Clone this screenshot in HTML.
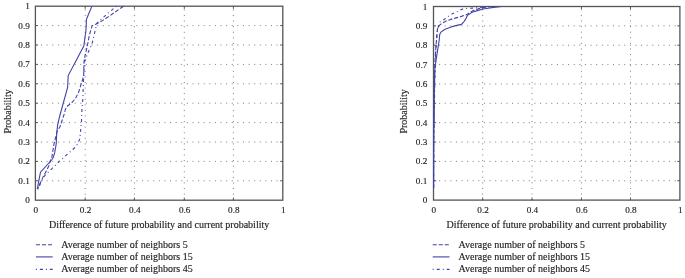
<!DOCTYPE html><html><head><meta charset="utf-8"><style>
html,body{margin:0;padding:0;background:#fff;}
svg{display:block;will-change:transform;}
text{font-family:'Liberation Serif', serif;fill:#1e1e1e;stroke:#1e1e1e;stroke-width:0.15px;}
</style></head><body>
<svg width="685" height="278" viewBox="0 0 685 278">
<line x1="85.20" y1="200.20" x2="85.20" y2="6.20" stroke="#7c7c7c" stroke-width="1.0" stroke-dasharray="1.0 4.58"/>
<line x1="134.40" y1="200.20" x2="134.40" y2="6.20" stroke="#7c7c7c" stroke-width="1.0" stroke-dasharray="1.0 4.58"/>
<line x1="184.30" y1="200.20" x2="184.30" y2="6.20" stroke="#7c7c7c" stroke-width="1.0" stroke-dasharray="1.0 4.58"/>
<line x1="233.40" y1="200.20" x2="233.40" y2="6.20" stroke="#7c7c7c" stroke-width="1.0" stroke-dasharray="1.0 4.58"/>
<line x1="35.40" y1="180.80" x2="282.80" y2="180.80" stroke="#7c7c7c" stroke-width="1.0" stroke-dasharray="1.0 4.61"/>
<line x1="35.40" y1="161.40" x2="282.80" y2="161.40" stroke="#7c7c7c" stroke-width="1.0" stroke-dasharray="1.0 4.61"/>
<line x1="35.40" y1="142.00" x2="282.80" y2="142.00" stroke="#7c7c7c" stroke-width="1.0" stroke-dasharray="1.0 4.61"/>
<line x1="35.40" y1="122.60" x2="282.80" y2="122.60" stroke="#7c7c7c" stroke-width="1.0" stroke-dasharray="1.0 4.61"/>
<line x1="35.40" y1="103.20" x2="282.80" y2="103.20" stroke="#7c7c7c" stroke-width="1.0" stroke-dasharray="1.0 4.61"/>
<line x1="35.40" y1="83.80" x2="282.80" y2="83.80" stroke="#7c7c7c" stroke-width="1.0" stroke-dasharray="1.0 4.61"/>
<line x1="35.40" y1="64.40" x2="282.80" y2="64.40" stroke="#7c7c7c" stroke-width="1.0" stroke-dasharray="1.0 4.61"/>
<line x1="35.40" y1="45.00" x2="282.80" y2="45.00" stroke="#7c7c7c" stroke-width="1.0" stroke-dasharray="1.0 4.61"/>
<line x1="35.40" y1="25.60" x2="282.80" y2="25.60" stroke="#7c7c7c" stroke-width="1.0" stroke-dasharray="1.0 4.61"/>
<line x1="85.20" y1="200.20" x2="85.20" y2="197.60" stroke="#555" stroke-width="1"/>
<line x1="85.20" y1="6.20" x2="85.20" y2="8.80" stroke="#555" stroke-width="1"/>
<line x1="134.40" y1="200.20" x2="134.40" y2="197.60" stroke="#555" stroke-width="1"/>
<line x1="134.40" y1="6.20" x2="134.40" y2="8.80" stroke="#555" stroke-width="1"/>
<line x1="184.30" y1="200.20" x2="184.30" y2="197.60" stroke="#555" stroke-width="1"/>
<line x1="184.30" y1="6.20" x2="184.30" y2="8.80" stroke="#555" stroke-width="1"/>
<line x1="233.40" y1="200.20" x2="233.40" y2="197.60" stroke="#555" stroke-width="1"/>
<line x1="233.40" y1="6.20" x2="233.40" y2="8.80" stroke="#555" stroke-width="1"/>
<line x1="35.40" y1="180.80" x2="38.00" y2="180.80" stroke="#555" stroke-width="1"/>
<line x1="282.80" y1="180.80" x2="280.20" y2="180.80" stroke="#555" stroke-width="1"/>
<line x1="35.40" y1="161.40" x2="38.00" y2="161.40" stroke="#555" stroke-width="1"/>
<line x1="282.80" y1="161.40" x2="280.20" y2="161.40" stroke="#555" stroke-width="1"/>
<line x1="35.40" y1="142.00" x2="38.00" y2="142.00" stroke="#555" stroke-width="1"/>
<line x1="282.80" y1="142.00" x2="280.20" y2="142.00" stroke="#555" stroke-width="1"/>
<line x1="35.40" y1="122.60" x2="38.00" y2="122.60" stroke="#555" stroke-width="1"/>
<line x1="282.80" y1="122.60" x2="280.20" y2="122.60" stroke="#555" stroke-width="1"/>
<line x1="35.40" y1="103.20" x2="38.00" y2="103.20" stroke="#555" stroke-width="1"/>
<line x1="282.80" y1="103.20" x2="280.20" y2="103.20" stroke="#555" stroke-width="1"/>
<line x1="35.40" y1="83.80" x2="38.00" y2="83.80" stroke="#555" stroke-width="1"/>
<line x1="282.80" y1="83.80" x2="280.20" y2="83.80" stroke="#555" stroke-width="1"/>
<line x1="35.40" y1="64.40" x2="38.00" y2="64.40" stroke="#555" stroke-width="1"/>
<line x1="282.80" y1="64.40" x2="280.20" y2="64.40" stroke="#555" stroke-width="1"/>
<line x1="35.40" y1="45.00" x2="38.00" y2="45.00" stroke="#555" stroke-width="1"/>
<line x1="282.80" y1="45.00" x2="280.20" y2="45.00" stroke="#555" stroke-width="1"/>
<line x1="35.40" y1="25.60" x2="38.00" y2="25.60" stroke="#555" stroke-width="1"/>
<line x1="282.80" y1="25.60" x2="280.20" y2="25.60" stroke="#555" stroke-width="1"/>
<rect x="35.40" y="6.20" width="247.40" height="194.00" fill="none" stroke="#555" stroke-width="1.3"/>
<polyline points="123.60,6.20 103.00,20.40 96.30,23.90 92.10,25.80 89.40,35.00 87.30,46.00 85.00,56.00 84.00,62.00 83.70,76.00 78.50,92.50 75.50,98.50 71.90,102.60 66.30,107.00 65.00,110.80 63.90,115.00 60.10,126.40 56.90,132.00 56.40,134.50 54.00,144.00 51.70,158.00 50.20,161.00 48.90,165.70 46.30,170.90 43.80,175.40 41.80,179.90 39.20,185.10 37.60,189.00" fill="none" stroke="#4242aa" stroke-width="1.1" stroke-dasharray="4.1 1.9"/>
<polyline points="116.50,6.10 104.20,16.60 97.00,23.00 95.40,29.40 94.20,35.00 91.80,44.70 89.30,49.60 85.30,59.30 84.30,63.00 83.50,80.00 83.00,95.00 82.60,102.60 82.00,107.60 81.50,121.30 80.90,127.60 80.20,135.20 79.60,139.50 76.30,146.30 59.60,161.20 52.20,168.30 48.90,171.50 44.40,176.00 41.00,182.50 37.80,189.50" fill="none" stroke="#4242aa" stroke-width="1.1" stroke-dasharray="1 3 3 3"/>
<polyline points="92.00,6.10 88.20,15.00 86.40,19.50 86.00,30.00 85.30,35.00 83.80,46.00 68.20,75.60 67.60,87.50 59.60,116.50 57.60,125.10 56.80,132.00 56.20,144.00 54.70,152.70 53.20,157.50 51.60,160.00 40.50,172.20 39.20,178.60 37.90,185.80 37.30,189.00" fill="none" stroke="#4242aa" stroke-width="1.1"/>
<text x="29.80" y="203.20" font-size="9.2" text-anchor="end">0</text>
<text x="29.80" y="183.80" font-size="9.2" text-anchor="end">0.1</text>
<text x="29.80" y="164.40" font-size="9.2" text-anchor="end">0.2</text>
<text x="29.80" y="145.00" font-size="9.2" text-anchor="end">0.3</text>
<text x="29.80" y="125.60" font-size="9.2" text-anchor="end">0.4</text>
<text x="29.80" y="106.20" font-size="9.2" text-anchor="end">0.5</text>
<text x="29.80" y="86.80" font-size="9.2" text-anchor="end">0.6</text>
<text x="29.80" y="67.40" font-size="9.2" text-anchor="end">0.7</text>
<text x="29.80" y="48.00" font-size="9.2" text-anchor="end">0.8</text>
<text x="29.80" y="28.60" font-size="9.2" text-anchor="end">0.9</text>
<text x="29.80" y="9.20" font-size="9.2" text-anchor="end">1</text>
<text x="35.80" y="213.2" font-size="9.2" text-anchor="middle">0</text>
<text x="85.60" y="213.2" font-size="9.2" text-anchor="middle">0.2</text>
<text x="134.80" y="213.2" font-size="9.2" text-anchor="middle">0.4</text>
<text x="184.70" y="213.2" font-size="9.2" text-anchor="middle">0.6</text>
<text x="233.80" y="213.2" font-size="9.2" text-anchor="middle">0.8</text>
<text x="283.20" y="213.2" font-size="9.2" text-anchor="middle">1</text>
<text x="159.10" y="227.9" font-size="10" text-anchor="middle">Difference of future probability and current probability</text>
<text x="0" y="0" font-size="10" text-anchor="middle" transform="translate(10.60,111.40) rotate(-90)">Probability</text>
<line x1="35.90" y1="244.80" x2="52.70" y2="244.80" stroke="#4242aa" stroke-width="1.1" stroke-dasharray="4.1 1.9"/>
<text x="61.20" y="247.65" font-size="10">Average number of neighbors 5</text>
<line x1="35.90" y1="256.90" x2="52.70" y2="256.90" stroke="#4242aa" stroke-width="1.1" />
<text x="61.20" y="259.75" font-size="10">Average number of neighbors 15</text>
<line x1="35.90" y1="269.40" x2="52.70" y2="269.40" stroke="#4242aa" stroke-width="1.1" stroke-dasharray="1 3 3 3"/>
<text x="61.20" y="272.25" font-size="10">Average number of neighbors 45</text>
<line x1="482.70" y1="200.10" x2="482.70" y2="6.50" stroke="#7c7c7c" stroke-width="1.0" stroke-dasharray="1.0 4.58"/>
<line x1="532.00" y1="200.10" x2="532.00" y2="6.50" stroke="#7c7c7c" stroke-width="1.0" stroke-dasharray="1.0 4.58"/>
<line x1="581.40" y1="200.10" x2="581.40" y2="6.50" stroke="#7c7c7c" stroke-width="1.0" stroke-dasharray="1.0 4.58"/>
<line x1="630.50" y1="200.10" x2="630.50" y2="6.50" stroke="#7c7c7c" stroke-width="1.0" stroke-dasharray="1.0 4.58"/>
<line x1="433.50" y1="180.74" x2="679.90" y2="180.74" stroke="#7c7c7c" stroke-width="1.0" stroke-dasharray="1.0 4.61"/>
<line x1="433.50" y1="161.38" x2="679.90" y2="161.38" stroke="#7c7c7c" stroke-width="1.0" stroke-dasharray="1.0 4.61"/>
<line x1="433.50" y1="142.02" x2="679.90" y2="142.02" stroke="#7c7c7c" stroke-width="1.0" stroke-dasharray="1.0 4.61"/>
<line x1="433.50" y1="122.66" x2="679.90" y2="122.66" stroke="#7c7c7c" stroke-width="1.0" stroke-dasharray="1.0 4.61"/>
<line x1="433.50" y1="103.30" x2="679.90" y2="103.30" stroke="#7c7c7c" stroke-width="1.0" stroke-dasharray="1.0 4.61"/>
<line x1="433.50" y1="83.94" x2="679.90" y2="83.94" stroke="#7c7c7c" stroke-width="1.0" stroke-dasharray="1.0 4.61"/>
<line x1="433.50" y1="64.58" x2="679.90" y2="64.58" stroke="#7c7c7c" stroke-width="1.0" stroke-dasharray="1.0 4.61"/>
<line x1="433.50" y1="45.22" x2="679.90" y2="45.22" stroke="#7c7c7c" stroke-width="1.0" stroke-dasharray="1.0 4.61"/>
<line x1="433.50" y1="25.86" x2="679.90" y2="25.86" stroke="#7c7c7c" stroke-width="1.0" stroke-dasharray="1.0 4.61"/>
<line x1="482.70" y1="200.10" x2="482.70" y2="197.50" stroke="#555" stroke-width="1"/>
<line x1="482.70" y1="6.50" x2="482.70" y2="9.10" stroke="#555" stroke-width="1"/>
<line x1="532.00" y1="200.10" x2="532.00" y2="197.50" stroke="#555" stroke-width="1"/>
<line x1="532.00" y1="6.50" x2="532.00" y2="9.10" stroke="#555" stroke-width="1"/>
<line x1="581.40" y1="200.10" x2="581.40" y2="197.50" stroke="#555" stroke-width="1"/>
<line x1="581.40" y1="6.50" x2="581.40" y2="9.10" stroke="#555" stroke-width="1"/>
<line x1="630.50" y1="200.10" x2="630.50" y2="197.50" stroke="#555" stroke-width="1"/>
<line x1="630.50" y1="6.50" x2="630.50" y2="9.10" stroke="#555" stroke-width="1"/>
<line x1="433.50" y1="180.74" x2="436.10" y2="180.74" stroke="#555" stroke-width="1"/>
<line x1="679.90" y1="180.74" x2="677.30" y2="180.74" stroke="#555" stroke-width="1"/>
<line x1="433.50" y1="161.38" x2="436.10" y2="161.38" stroke="#555" stroke-width="1"/>
<line x1="679.90" y1="161.38" x2="677.30" y2="161.38" stroke="#555" stroke-width="1"/>
<line x1="433.50" y1="142.02" x2="436.10" y2="142.02" stroke="#555" stroke-width="1"/>
<line x1="679.90" y1="142.02" x2="677.30" y2="142.02" stroke="#555" stroke-width="1"/>
<line x1="433.50" y1="122.66" x2="436.10" y2="122.66" stroke="#555" stroke-width="1"/>
<line x1="679.90" y1="122.66" x2="677.30" y2="122.66" stroke="#555" stroke-width="1"/>
<line x1="433.50" y1="103.30" x2="436.10" y2="103.30" stroke="#555" stroke-width="1"/>
<line x1="679.90" y1="103.30" x2="677.30" y2="103.30" stroke="#555" stroke-width="1"/>
<line x1="433.50" y1="83.94" x2="436.10" y2="83.94" stroke="#555" stroke-width="1"/>
<line x1="679.90" y1="83.94" x2="677.30" y2="83.94" stroke="#555" stroke-width="1"/>
<line x1="433.50" y1="64.58" x2="436.10" y2="64.58" stroke="#555" stroke-width="1"/>
<line x1="679.90" y1="64.58" x2="677.30" y2="64.58" stroke="#555" stroke-width="1"/>
<line x1="433.50" y1="45.22" x2="436.10" y2="45.22" stroke="#555" stroke-width="1"/>
<line x1="679.90" y1="45.22" x2="677.30" y2="45.22" stroke="#555" stroke-width="1"/>
<line x1="433.50" y1="25.86" x2="436.10" y2="25.86" stroke="#555" stroke-width="1"/>
<line x1="679.90" y1="25.86" x2="677.30" y2="25.86" stroke="#555" stroke-width="1"/>
<rect x="433.50" y="6.50" width="246.40" height="193.60" fill="none" stroke="#555" stroke-width="1.3"/>
<polyline points="492.00,6.50 482.00,7.80 473.20,10.50 467.40,14.30 465.10,15.20 459.50,17.00 452.50,18.80 446.00,21.10 441.20,23.90 438.20,26.20 437.40,29.60 436.80,36.00 435.90,47.30 435.10,58.80 434.60,80.00 434.10,110.00 433.70,140.00 433.60,188.00" fill="none" stroke="#4242aa" stroke-width="1.1" stroke-dasharray="4.1 1.9"/>
<polyline points="487.00,6.50 478.00,7.80 472.60,8.10 467.40,8.30 462.30,9.10 457.60,11.50 453.00,13.40 448.70,16.10 444.00,19.50 440.00,22.00 438.50,26.30 437.40,30.00 436.60,40.00 435.40,60.00 434.70,90.00 434.10,115.00 433.70,140.00 433.60,188.00" fill="none" stroke="#4242aa" stroke-width="1.1" stroke-dasharray="1 3 3 3"/>
<polyline points="501.70,6.50 493.60,7.40 488.20,8.20 482.80,9.00 477.40,10.60 472.00,12.20 470.20,13.60 467.40,15.40 465.50,19.40 464.00,21.60 461.40,24.40 454.70,25.90 449.70,27.40 444.60,29.50 441.00,32.00 439.70,34.50 439.40,38.00 439.10,41.00 437.70,49.70 436.20,59.40 434.90,68.00 434.50,78.70 434.10,110.00 433.70,140.00 433.60,188.00" fill="none" stroke="#4242aa" stroke-width="1.1"/>
<text x="427.30" y="203.10" font-size="9.2" text-anchor="end">0</text>
<text x="427.30" y="183.74" font-size="9.2" text-anchor="end">0.1</text>
<text x="427.30" y="164.38" font-size="9.2" text-anchor="end">0.2</text>
<text x="427.30" y="145.02" font-size="9.2" text-anchor="end">0.3</text>
<text x="427.30" y="125.66" font-size="9.2" text-anchor="end">0.4</text>
<text x="427.30" y="106.30" font-size="9.2" text-anchor="end">0.5</text>
<text x="427.30" y="86.94" font-size="9.2" text-anchor="end">0.6</text>
<text x="427.30" y="67.58" font-size="9.2" text-anchor="end">0.7</text>
<text x="427.30" y="48.22" font-size="9.2" text-anchor="end">0.8</text>
<text x="427.30" y="28.86" font-size="9.2" text-anchor="end">0.9</text>
<text x="427.30" y="9.50" font-size="9.2" text-anchor="end">1</text>
<text x="433.90" y="213.2" font-size="9.2" text-anchor="middle">0</text>
<text x="483.10" y="213.2" font-size="9.2" text-anchor="middle">0.2</text>
<text x="532.40" y="213.2" font-size="9.2" text-anchor="middle">0.4</text>
<text x="581.80" y="213.2" font-size="9.2" text-anchor="middle">0.6</text>
<text x="630.90" y="213.2" font-size="9.2" text-anchor="middle">0.8</text>
<text x="680.30" y="213.2" font-size="9.2" text-anchor="middle">1</text>
<text x="556.70" y="227.9" font-size="10" text-anchor="middle">Difference of future probability and current probability</text>
<text x="0" y="0" font-size="10" text-anchor="middle" transform="translate(407.00,111.40) rotate(-90)">Probability</text>
<line x1="432.70" y1="244.80" x2="449.50" y2="244.80" stroke="#4242aa" stroke-width="1.1" stroke-dasharray="4.1 1.9"/>
<text x="458.60" y="247.65" font-size="10">Average number of neighbors 5</text>
<line x1="432.70" y1="256.90" x2="449.50" y2="256.90" stroke="#4242aa" stroke-width="1.1" />
<text x="458.60" y="259.75" font-size="10">Average number of neighbors 15</text>
<line x1="432.70" y1="269.40" x2="449.50" y2="269.40" stroke="#4242aa" stroke-width="1.1" stroke-dasharray="1 3 3 3"/>
<text x="458.60" y="272.25" font-size="10">Average number of neighbors 45</text>
</svg></body></html>
